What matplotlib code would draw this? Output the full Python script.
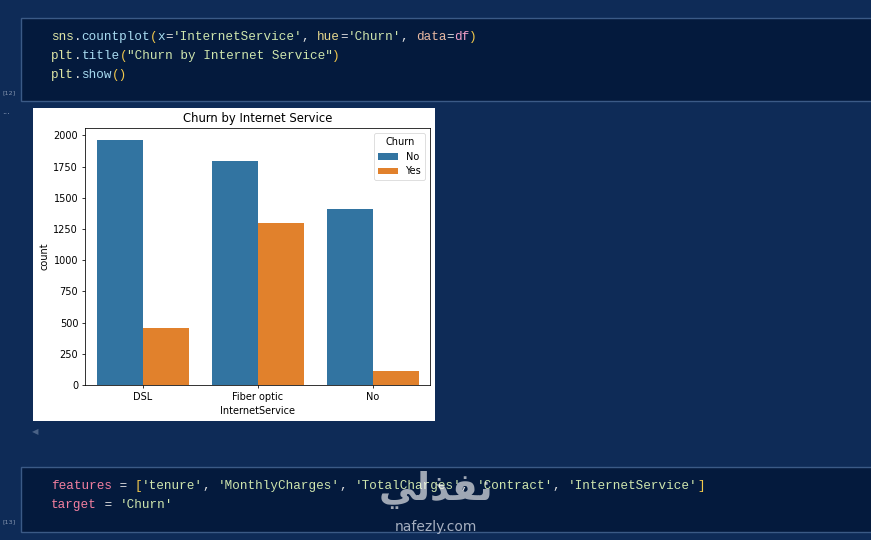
"""Screenshot of a notebook cell: seaborn-style countplot of churn by internet service."""
import matplotlib

matplotlib.use("Agg")
import matplotlib.pyplot as plt  # noqa: E402
import numpy as np  # noqa: E402
from matplotlib.patches import Rectangle  # noqa: E402

W, H = 871, 540

# counts per InternetService and Churn
services = ["DSL", "Fiber optic", "No"]
churn_no = [1962, 1799, 1413]
churn_yes = [459, 1297, 113]
yticks = [0, 250, 500, 750, 1000, 1250, 1500, 1750, 2000]

BG = "#0e2b57"
CELL = "#041a3d"
EDGE = "#3b5a86"
C_NO = "#3274a1"
C_YES = "#e1812c"

# code colours
NAME = "#dfe6a6"
ATTR = "#a9dcf2"
PAREN = "#f2c94c"
STR = "#cfe6ae"
OP = "#e2e2e2"
KW_X = "#a9e0f2"
KW_HUE = "#e6d88e"
KW_DATA = "#e8b9a2"
DF = "#f0a0c8"
VAR = "#f27f9f"

CW = 7.6  # px per monospace character


def fx(x):
    return x / W


def fy(y):
    return 1 - y / H


def rect(x0, y0, x1, y1, **kw):
    fig.add_artist(Rectangle((fx(x0), fy(y1)), fx(x1) - fx(x0), fy(y0) - fy(y1),
                             transform=fig.transFigure, **kw))


def code_line(y, tokens, x0=51):
    col = 0
    for s, c in tokens:
        fig.text(fx(x0 + col * CW), fy(y), s, color=c, family="Liberation Mono",
                 size=9.1, va="center", ha="left")
        col += len(s)


fig = plt.figure(figsize=(W / 100, H / 100), dpi=100)
fig.patch.set_facecolor(BG)

# code cells
rect(20.5, 18, 880, 101, facecolor=CELL, edgecolor=EDGE, lw=1, zorder=-2)
rect(20.5, 467, 880, 532, facecolor=CELL, edgecolor=EDGE, lw=1, zorder=-2)

code_line(37, [("sns", NAME), (".", OP), ("countplot", ATTR), ("(", PAREN), ("x", KW_X),
               ("=", OP), ("'InternetService'", STR), (", ", OP), ("hue", KW_HUE), ("=", OP),
               ("'Churn'", STR), (", ", OP), ("data", KW_DATA), ("=", OP), ("df", DF),
               (")", PAREN)])
code_line(56, [("plt", NAME), (".", OP), ("title", ATTR), ("(", PAREN),
               ('"Churn by Internet Service"', STR), (")", PAREN)])
code_line(75, [("plt", NAME), (".", OP), ("show", ATTR), ("()", PAREN)])

code_line(486, [("features", VAR), (" = ", OP), ("[", PAREN), ("'tenure'", STR), (", ", OP),
                ("'MonthlyCharges'", STR), (", ", OP), ("'TotalCharges'", STR), (", ", OP),
                ("'Contract'", STR), (", ", OP), ("'InternetService'", STR), ("]", PAREN)])
code_line(505, [("target", VAR), (" = ", OP), ("'Churn'", STR)])

fig.text(fx(9), fy(93), "[12]", color="#8393ad", size=4.6, ha="center", va="center")
fig.text(fx(9), fy(522), "[13]", color="#8393ad", size=4.6, ha="center", va="center")
fig.text(fx(6), fy(112), "...", color="#a6b4cc", size=6, ha="center", va="center")
fig.text(fx(35), fy(432), "\u25c0", color="#4a6286", size=6, ha="center", va="center")

# white output panel
rect(33, 108, 435, 421, facecolor="white", edgecolor="none", zorder=-1)

# the chart
ax = fig.add_axes([fx(85), fy(385), (430 - 85) / W, (385 - 128) / H])
x = np.arange(len(services))
ax.bar(x - 0.2, churn_no, width=0.4, color=C_NO, label="No")
ax.bar(x + 0.2, churn_yes, width=0.4, color=C_YES, label="Yes")
ax.set_xlim(-0.5, 2.5)
ax.set_xticks(x)
ax.set_xticklabels(services)
ax.set_yticks(yticks)
ax.tick_params(labelsize=7, length=2.45, width=0.56, pad=2.45)
for sp in ax.spines.values():
    sp.set_linewidth(0.56)
ax.set_xlabel("InternetService", fontsize=7, labelpad=2.8)
ax.set_ylabel("count", fontsize=7, labelpad=2.8)
ax.set_title("Churn by Internet Service", fontsize=8.4, pad=4.2)
leg = ax.legend(title="Churn", fontsize=7, title_fontsize=7, loc="upper right")
leg.get_frame().set_linewidth(0.56)

# watermark
fig.text(fx(436), fy(490), "\ufef2\ufedf\ufeac\ufed4\ufee7", color="white", alpha=0.62,
         size=27, weight="bold", ha="center", va="center", family="DejaVu Sans")
fig.text(fx(436), fy(527), "nafezly.com", color="#c3cad8", alpha=0.85, size=10,
         ha="center", va="center")

fig.savefig("out.png", dpi=100, facecolor=BG)
